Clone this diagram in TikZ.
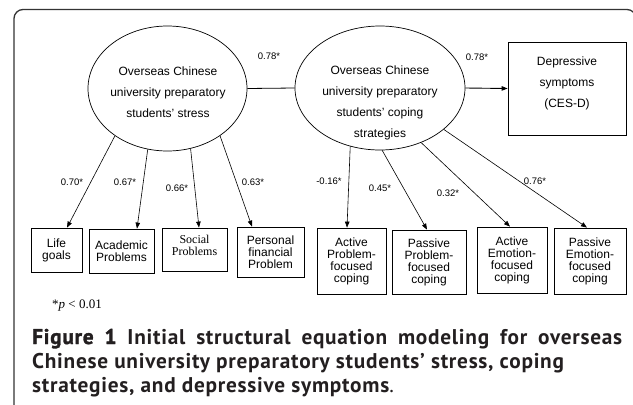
\documentclass[tikz,border=0pt]{standalone}
\usepackage{fontspec}
\setmainfont{Liberation Sans}
\newfontfamily\timesfont{Liberation Serif}
\newfontfamily\capfont[LetterSpace=3.5]{PT Sans}
\newfontfamily\capheavy[LetterSpace=3.5,BoldFeatures={FakeBold=1.5}]{PT Sans}
\usetikzlibrary{shapes.geometric,arrows.meta}
\definecolor{capcol}{HTML}{231F20}
\definecolor{framecol}{HTML}{333333}
\begin{document}
\begin{tikzpicture}[x=1pt,y=-1pt,
  lat/.style={draw, ellipse, line width=0.7pt, inner sep=0pt},
  etext/.style={align=center, inner sep=0pt, font=\fontsize{12}{21}\selectfont},
  obs/.style={draw, line width=0.8pt, inner sep=0pt, align=center, font=\fontsize{12}{12}\selectfont},
  lbl/.style={font=\fontsize{9.5}{10}\selectfont, inner sep=0pt},
  arr/.style={-{Triangle[length=6pt,width=4.5pt]}, line width=0.6pt},
  capline/.style={anchor=base west, inner sep=0pt, text=capcol, font=\capfont\bfseries\fontsize{21.3}{21.3}\selectfont}
]
\useasboundingbox (0,0) rectangle (633,405);
% frame
\draw[line width=1.3pt, framecol, rounded corners=9pt] (14,410) -- (14,9.5) -- (636,9.5) -- (636,410);

% latent variables
\node[lat, minimum width=159pt, minimum height=125pt] (e1) at (167.5,88.5) {};
\node[lat, minimum width=170pt, minimum height=124pt] (e2) at (380,88) {};
\node[etext] (t1) at (168,92) {Overseas Chinese\\university preparatory\\students’ stress};
\node[etext] (t2) at (380,102.5) {Overseas Chinese\\university preparatory\\students’ coping\\strategies};

% outcome
\node[obs, minimum width=118pt, minimum height=93pt] (dep) at (567,88.5) {};
\node[etext] (dept) at (567,83) {Depressive\\symptoms\\(CES-D)};

% indicators of stress
\node[obs, minimum width=51pt, minimum height=44pt] (lg) at (56.5,250) {Life\\goals};
\node[obs, minimum width=65pt, minimum height=44pt] (ap) at (121.5,251) {Academic\\Problems};
\node[obs, minimum width=65pt, minimum height=43pt] (sp) at (194.5,249.5) {};
\node[align=center, inner sep=0pt, font=\timesfont\fontsize{12}{12}\selectfont] (spt) at (194.5,245.5) {Social\\Problems};
\node[obs, minimum width=67pt, minimum height=50pt] (pf) at (270.5,252) {Personal\\financial\\Problem};

% indicators of coping
\node[obs, minimum width=69pt, minimum height=66pt] (apf) at (351.5,261) {Active\\Problem-\\focused\\coping};
\node[obs, minimum width=74pt, minimum height=64pt] (ppf) at (429,262) {Passive\\Problem-\\focused\\coping};
\node[obs, minimum width=70pt, minimum height=66pt] (aef) at (512,260) {Active\\Emotion-\\focused\\coping};
\node[obs, minimum width=72pt, minimum height=66pt] (pef) at (590,261) {Passive\\Emotion-\\focused\\coping};

% structural paths
\draw[line width=0.8pt] (e1.east) -- (e2.west);
\draw[arr, line width=0.9pt] (e2.east) -- (dep.west);

% measurement paths
\draw[arr] (e1.222) -- ([xshift=10.5pt]lg.north);
\draw[arr] (e1.252) -- ([xshift=15.5pt]ap.north);
\draw[arr] (e1.291) -- ([xshift=4.5pt]sp.north);
\draw[arr] (e1.318) -- ([xshift=-18.5pt]pf.north);
\draw[arr] (e2.243) -- ([xshift=-4.5pt]apf.north);
\draw[arr] (e2.272) -- ([xshift=-2pt]ppf.north);
\draw[arr] (e2.307) -- ([xshift=-2pt]aef.north);
\draw[arr] (e2.327) -- ([xshift=-3pt]pef.north);

% coefficients
\node[lbl] (l1) at (269,56) {0.78*};
\node[lbl] (l2) at (477,57) {0.78*};
\node[lbl] (l3) at (72,182) {0.70*};
\node[lbl] (l4) at (125,182) {0.67*};
\node[lbl] (l5) at (177,188) {0.66*};
\node[lbl] (l6) at (253,182) {0.63*};
\node[lbl] (l7) at (329,181) {-0.16*};
\node[lbl] (l8) at (380,188) {0.45*};
\node[lbl] (l9) at (448,193) {0.32*};
\node[lbl] (l10) at (535,181) {0.76*};

% note
\node[anchor=base west, inner sep=0pt, font=\timesfont\fontsize{13}{13}\selectfont] (pv) at (52,308) {*\textit{p} < 0.01};

% caption
\node[capline] (c1) at (32,344) {\makebox[590pt][s]{{\capheavy\bfseries Figure 1} Initial structural equation modeling for overseas}};
\node[capline] (c2) at (32,368.5) {Chinese university preparatory students’ stress, coping};
\node[capline] (c3) at (32,392) {strategies, and depressive symptoms{\mdseries .}};
\end{tikzpicture}
\end{document}
